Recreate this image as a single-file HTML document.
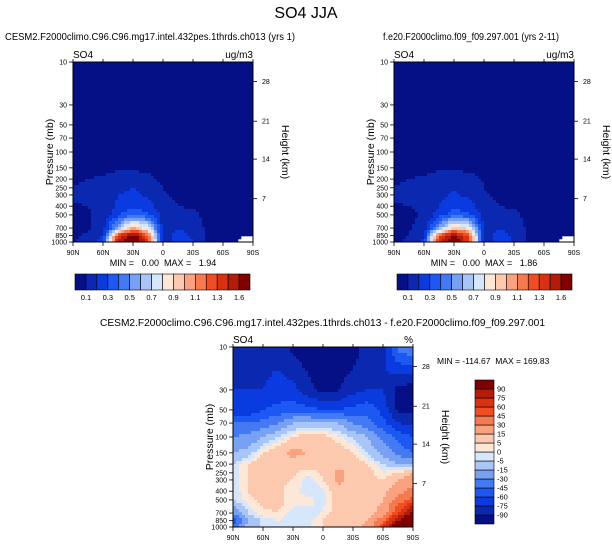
<!DOCTYPE html>
<html><head><meta charset="utf-8"><style>
body{margin:0;background:#fff;}
svg{display:block;font-family:"Liberation Sans",Arial,sans-serif;}
text{white-space:pre;}
</style></head><body>
<svg id="fig" width="612" height="547" viewBox="0 0 612 547">
<text x="306" y="18" font-size="16" text-anchor="middle">SO4 JJA</text>
<text x="5" y="40" font-size="10.5" textLength="290" lengthAdjust="spacingAndGlyphs">CESM2.F2000climo.C96.C96.mg17.intel.432pes.1thrds.ch013 (yrs 1)</text>
<text x="383" y="40" font-size="10.5" textLength="176" lengthAdjust="spacingAndGlyphs">f.e20.F2000climo.f09_f09.297.001 (yrs 2-11)</text>
<text x="100" y="326" font-size="10.5" textLength="445" lengthAdjust="spacingAndGlyphs">CESM2.F2000climo.C96.C96.mg17.intel.432pes.1thrds.ch013 - f.e20.F2000climo.f09_f09.297.001</text>
</svg>
<script>
const pressureLevels=[10,30,50,70,100,150,200,250,300,400,500,700,850,1000];
const latLabels=["90N","60N","30N","0","30S","60S","90S"];
const heightLabels=["28","21","14","7"];
const heightPressures=[16.5,45.5,120,330];
const so4Levels=[0.1,0.2,0.3,0.4,0.5,0.6,0.7,0.8,0.9,1.0,1.1,1.2,1.3,1.45,1.6];
const so4TickLabels=["0.1","0.3","0.5","0.7","0.9","1.1","1.3","1.6"];
const diffLevels=[-90,-75,-60,-45,-30,-15,-5,0,5,15,30,45,60,75,90];
const diffTickLabels=["90","75","60","45","30","15","5","0","-5","-15","-30","-45","-60","-75","-90"];
const palette=["#050f86","#0a28b0","#0a3be0","#1c58f2","#4479f4","#78a0f3","#a9c4f6","#d6e7fb","#fde7d6","#fcc8ae","#faa17f","#f77a4f","#f04d22","#d93210","#b41c08","#800000"];
const fieldCase1=[
[.03,.03,.03,.03,.03,.03,.03,.03,.03,.03,.03,.03,.03],
[.03,.03,.03,.03,.03,.03,.03,.03,.03,.03,.03,.03,.03],
[.03,.03,.03,.03,.03,.03,.03,.03,.03,.03,.03,.03,.03],
[.03,.03,.03,.03,.03,.03,.03,.03,.03,.03,.03,.03,.03],
[.04,.04,.04,.05,.05,.05,.04,.04,.04,.03,.03,.03,.03],
[.06,.07,.08,.09,.09,.08,.06,.05,.04,.04,.03,.03,.03],
[.08,.1,.11,.13,.14,.12,.08,.06,.05,.04,.03,.03,.03],
[.11,.12,.13,.17,.2,.16,.1,.07,.06,.05,.03,.03,.03],
[.12,.12,.14,.2,.22,.18,.11,.08,.07,.05,.03,.03,.03],
[.09,.1,.13,.22,.28,.24,.14,.1,.09,.06,.03,.03,.03],
[.08,.09,.12,.28,.4,.32,.16,.13,.12,.07,.03,.03,.03],
[.08,.09,.15,.6,1.0,.8,.15,.2,.15,.08,.05,.04,.03],
[.09,.11,.2,1.3,1.7,1.2,.14,.25,.18,.08,.04,.03,.01],
[.1,.12,.25,1.5,1.94,1.3,.15,.25,.2,.09,.0,.0,-.2]];
const fieldCase2=[
[.03,.03,.03,.03,.03,.03,.03,.03,.03,.03,.03,.03,.03],
[.03,.03,.03,.03,.03,.03,.03,.03,.03,.03,.03,.03,.03],
[.03,.03,.03,.03,.03,.03,.03,.03,.03,.03,.03,.03,.03],
[.03,.03,.03,.03,.03,.03,.03,.03,.03,.03,.03,.03,.03],
[.04,.04,.04,.05,.05,.05,.04,.04,.04,.03,.03,.03,.03],
[.06,.07,.08,.09,.09,.08,.06,.05,.04,.04,.03,.03,.03],
[.08,.1,.11,.13,.14,.13,.09,.06,.05,.04,.03,.03,.03],
[.11,.12,.13,.16,.19,.16,.1,.07,.06,.05,.03,.03,.03],
[.12,.12,.13,.18,.21,.18,.11,.08,.07,.05,.03,.03,.03],
[.09,.1,.12,.2,.26,.24,.14,.1,.09,.06,.03,.03,.03],
[.07,.08,.11,.25,.36,.32,.16,.13,.12,.07,.03,.03,.03],
[.07,.09,.14,.55,.95,.85,.15,.2,.15,.08,.05,.04,.03],
[.08,.1,.18,1.2,1.65,1.25,.14,.24,.18,.08,.04,.03,.01],
[.09,.11,.22,1.4,1.86,1.3,.15,.24,.19,.09,.0,.0,-.2]];
const fieldDiff=[
[-80,-80,-80,-80,-95,-100,-100,-100,-100,-80,-80,-40,-30],
[-75,-75,-75,-70,-70,-85,-95,-92,-80,-75,-75,-95,-100],
[-70,-70,-60,-55,-50,-55,-60,-60,-55,-50,-65,-95,-95],
[-45,-45,-40,-30,-15,-10,-12,-15,-30,-40,-55,-75,-80],
[-30,-25,-15,-5,5,10,8,2,-5,-15,-35,-50,-60],
[-15,-10,5,12,18,15,10,10,5,-5,-20,-35,-45],
[-5,5,12,15,10,8,10,12,10,5,-5,-15,-20],
[-3,5,10,10,6,2,6,18,12,8,0,5,15],
[-3,5,10,8,4,-2,4,18,10,8,5,15,25],
[-5,5,10,6,2,-3,-2,12,10,5,10,25,35],
[-5,2,8,8,2,2,-2,10,10,8,15,35,50],
[-25,-5,3,5,-2,-2,0,10,10,10,20,60,100],
[-60,-15,-4,0,-4,-3,5,15,10,15,40,90,130],
[-40,-10,-4,-2,-3,0,5,10,10,20,60,110,170]];

const NS="http://www.w3.org/2000/svg";
const svg=document.getElementById('fig');
function mk(tag,attrs,parent){const e=document.createElementNS(NS,tag);for(const k in attrs)e.setAttribute(k,attrs[k]);(parent||svg).appendChild(e);return e;}
function colorFor(v,levels){if(v<0&&levels===so4Levels)return null;let i=0;while(i<levels.length&&v>=levels[i])i++;return palette[i];}

function panel(name,x0,y0,w,h,field,levels,unit){
  const g=mk('g',{});
  
  
  const lp0=Math.log10(10),lp1=Math.log10(1000);
  const yOf=p=>y0+(Math.log10(p)-lp0)/(lp1-lp0)*h;
  const xOfLat=lat=>x0+(90-lat)/180*w;
  const nC=field[0].length;
  const cell=3;
  const cg=mk('g',{},g);
  
  
  const rowY=pressureLevels.map(yOf);
  for(let py=0;py<h;py+=cell){
    const yc=y0+py+cell/2;
    let r=0;while(r<rowY.length-2&&yc>rowY[r+1])r++;
    let ty=(yc-rowY[r])/(rowY[r+1]-rowY[r]);ty=Math.max(0,Math.min(1,ty));
    for(let px=0;px<w;px+=cell){
      const fc=(px+cell/2)/w*(nC-1);
      let c=Math.min(nC-2,Math.floor(fc));const tx=fc-c;
      const v=(field[r][c]*(1-tx)+field[r][c+1]*tx)*(1-ty)+(field[r+1][c]*(1-tx)+field[r+1][c+1]*tx)*ty;
      const col=colorFor(v,levels);
      if(!col)continue;
      const rc=mk('rect',{x:x0+px,y:y0+py,width:Math.min(cell,w-px)+0.3,height:Math.min(cell,h-py)+0.3,fill:col},cg);
      
      
    }
  }
  const fr=mk('rect',{x:x0,y:y0,width:w,height:h,fill:'none',stroke:'#000','stroke-width':1},g);
  
  
  pressureLevels.forEach(p=>{
    const y=yOf(p);
    mk('line',{x1:x0-4,x2:x0,y1:y,y2:y,stroke:'#000','stroke-width':0.8},g);
    const t=mk('text',{x:x0-6,y:y+2.5,'font-size':7,'text-anchor':'end'},g);t.textContent=p;
    
    
  });
  heightLabels.forEach((lab,i)=>{
    const y=yOf(heightPressures[i]);
    mk('line',{x1:x0+w,x2:x0+w+4,y1:y,y2:y,stroke:'#000','stroke-width':0.8},g);
    const t=mk('text',{x:x0+w+9,y:y+2.5,'font-size':7},g);t.textContent=lab;
    
    
  });
  latLabels.forEach((lab,i)=>{
    const x=xOfLat(90-i*30);
    mk('line',{x1:x,x2:x,y1:y0+h,y2:y0+h+4,stroke:'#000','stroke-width':0.8},g);
    mk('line',{x1:x,x2:x,y1:y0,y2:y0-3,stroke:'#000','stroke-width':0.8},g);
    const t=mk('text',{x:x,y:y0+h+13,'font-size':7,'text-anchor':'middle'},g);t.textContent=lab;
    
    
  });
  let t=mk('text',{x:x0,y:y0-4,'font-size':10},g);t.textContent='SO4';
  
  
  t=mk('text',{x:x0+w,y:y0-4,'font-size':10,'text-anchor':'end'},g);t.textContent=unit;
  
  
  t=mk('text',{x:0,y:0,'font-size':10.5,'text-anchor':'middle',transform:`translate(${x0-20},${y0+h/2}) rotate(-90)`},g);t.textContent='Pressure (mb)';
  
  
  t=mk('text',{x:0,y:0,'font-size':10.5,'text-anchor':'middle',transform:`translate(${x0+w+29},${y0+h/2}) rotate(90)`},g);t.textContent='Height (km)';
  
  
}

function hbar(name,x0,y0,w,h){
  const g=mk('g',{});
  
  
  const bw=w/palette.length;
  palette.forEach((c,i)=>{const r=mk('rect',{x:x0+i*bw,y:y0,width:bw,height:h,fill:c,stroke:'#000','stroke-width':0.6},g);
    
    });
  so4TickLabels.forEach((lab,i)=>{const t=mk('text',{x:x0+(1+2*i)*bw,y:y0+h+10,'font-size':7.5,'text-anchor':'middle'},g);t.textContent=lab;
    
    });
}
function vbar(name,x0,y0,w,h){
  const g=mk('g',{});
  
  
  const bh=h/palette.length;
  palette.forEach((c,i)=>{const r=mk('rect',{x:x0,y:y0+(palette.length-1-i)*bh,width:w,height:bh,fill:c,stroke:'#000','stroke-width':0.6},g);
    
    });
  diffTickLabels.forEach((lab,i)=>{const t=mk('text',{x:x0+w+3,y:y0+(i+1)*bh+2.5,'font-size':7.5},g);t.textContent=lab;
    
    });
}

panel('left-panel',73,62,180,180,fieldCase1,so4Levels,'ug/m3');
panel('right-panel',394,62,180,180,fieldCase2,so4Levels,'ug/m3');
panel('diff-panel',233,347,180,180,fieldDiff,diffLevels,'%');
hbar('left-colorbar',75,274,175,16);
hbar('right-colorbar',397,274,175,16);
vbar('diff-colorbar',475,380,19,144);
function txt(x,y,s,str,anchor,name){const t=mk('text',{x:x,y:y,'font-size':s,'text-anchor':anchor});t.textContent=str;
  }
txt(163,266,9,'MIN =   0.00  MAX =   1.94','middle','left-minmax');
txt(484,266,9,'MIN =   0.00  MAX =   1.86','middle','right-minmax');
txt(437,364,8.5,'MIN = -114.67  MAX = 169.83','start','diff-minmax');
</script>
</body></html>
